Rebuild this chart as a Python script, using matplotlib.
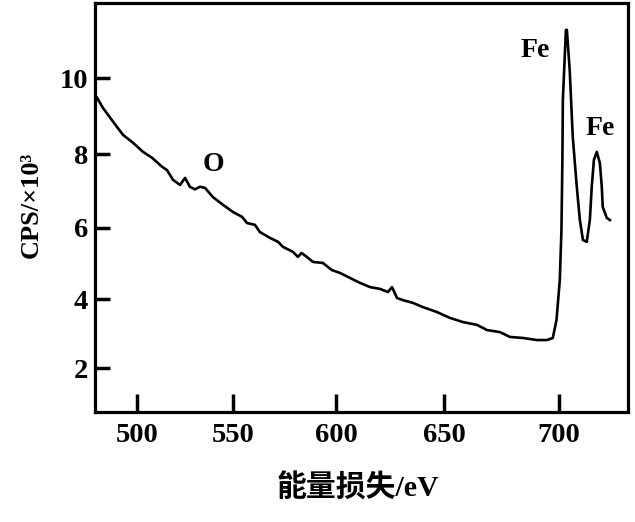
import numpy as np
import matplotlib
matplotlib.use("Agg")
import matplotlib.pyplot as plt

# ---- data ----
energy_loss = [478.3, 481.6, 487.1, 492.5, 497.9, 503.2, 508.0, 513.3, 515.9, 519.0,
               522.7, 525.3, 527.8, 530.4, 533.0, 535.6, 539.6, 544.7, 549.8, 554.3,
               556.8, 560.7, 563.2, 568.1, 572.1, 574.5, 579.4, 581.8, 583.5, 586.1,
               589.0, 593.8, 598.1, 601.9, 606.6, 611.3, 616.0, 620.6, 624.3, 626.2,
               628.5, 631.2, 635.8, 640.3, 646.6, 652.5, 658.3, 664.5, 668.9, 674.6,
               679.0, 684.6, 690.6, 694.9, 697.4, 699.0, 700.4, 701.1, 701.5, 701.7,
               703.0, 703.4, 704.6, 705.9, 707.6, 708.9, 710.2, 711.8, 713.1, 713.9,
               714.8, 716.0, 717.3, 718.1, 718.5, 720.2, 721.5]
cps = [9.49, 9.22, 8.86, 8.51, 8.30, 8.06, 7.90, 7.66, 7.57, 7.31,
       7.17, 7.36, 7.12, 7.05, 7.12, 7.09, 6.84, 6.63, 6.43, 6.30,
       6.13, 6.08, 5.88, 5.72, 5.61, 5.47, 5.33, 5.19, 5.30, 5.19,
       5.05, 5.02, 4.82, 4.74, 4.60, 4.46, 4.34, 4.29, 4.20, 4.34,
       4.03, 3.97, 3.89, 3.77, 3.63, 3.46, 3.34, 3.26, 3.11, 3.05,
       2.91, 2.88, 2.82, 2.82, 2.88, 3.40, 4.54, 5.94, 7.84, 9.43,
       11.24, 11.24, 10.21, 8.46, 7.12, 6.21, 5.66, 5.61, 6.21, 7.12,
       7.84, 8.06, 7.76, 7.12, 6.57, 6.27, 6.21]

x_ticks = [500, 550, 600, 650, 700]
y_ticks = [2, 4, 6, 8, 10]
x_label = "能量损失/eV"
y_label = "CPS/×10³"
peak_labels = ["O", "Fe", "Fe"]

# ---- slightly non-linear axes of the original drawing ----
KX = 0.0012 / 1.87
KY = 0.29 / 33.9

def fx(x):
    d = np.asarray(x, dtype=float) - 500.0
    return d + KX * d * d

def ifx(v):
    v = np.asarray(v, dtype=float)
    return 500.0 + (-1.0 + np.sqrt(np.clip(1.0 + 4 * KX * v, 1e-9, None))) / (2 * KX)

def fy(y):
    u = np.asarray(y, dtype=float) - 2.0
    return u + KY * u * u

def ify(v):
    v = np.asarray(v, dtype=float)
    return 2.0 + (-1.0 + np.sqrt(np.clip(1.0 + 4 * KY * v, 1e-9, None))) / (2 * KY)

serif = ["Liberation Serif", "DejaVu Serif"]
mixed = ["Liberation Serif", "Noto Sans CJK SC", "DejaVu Sans"]

fig = plt.figure(figsize=(6.35, 5.22), dpi=100)
ax = fig.add_axes([95 / 635, 110 / 522, 533 / 635, 409 / 522])
ax.set_xscale("function", functions=(fx, ifx))
ax.set_yscale("function", functions=(fy, ify))

ax.plot(energy_loss, cps, color="black", lw=1.9, solid_joinstyle="round")

ax.set_xlim(477.2, 729.0)
ax.set_ylim(0.69, 11.92)
ax.set_xticks(x_ticks)
ax.set_yticks(y_ticks)
ax.xaxis.set_minor_locator(matplotlib.ticker.NullLocator())
ax.yaxis.set_minor_locator(matplotlib.ticker.NullLocator())

for s in ax.spines.values():
    s.set_linewidth(2.3)
ax.tick_params(axis="x", direction="in", length=13, width=2.5, pad=8)
ax.tick_params(axis="y", direction="in", length=11, width=2.5, pad=5)
for lab in ax.get_xticklabels() + ax.get_yticklabels():
    lab.set_fontfamily(serif)
    lab.set_fontweight("bold")
    lab.set_fontsize(20.5)

ax.set_xlabel(x_label, fontfamily=mixed, fontweight="bold", fontsize=21.5)
ax.xaxis.set_label_coords(0.493, -0.150)
ax.set_ylabel(y_label, fontfamily=serif, fontweight="bold", fontsize=19)
ax.yaxis.set_label_coords(-0.098, 0.506)

label_pos = [(0.223, 0.604), (0.8255, 0.885), (0.947, 0.694)]
for t, (px, py) in zip(peak_labels, label_pos):
    ax.text(px, py, t, transform=ax.transAxes, ha="center", va="center",
            fontfamily=serif, fontweight="bold", fontsize=20)

fig.savefig("out.png", dpi=100)
